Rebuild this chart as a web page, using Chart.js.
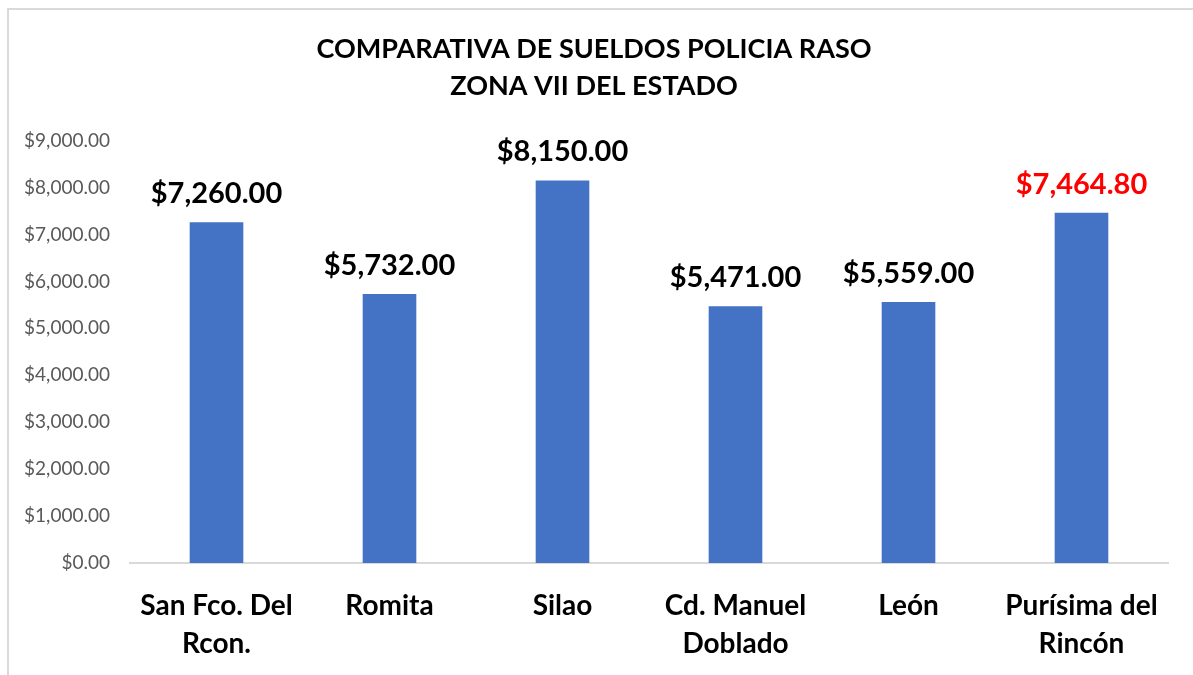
<!DOCTYPE html>
<html>
<head>
<meta charset="utf-8">
<script src="https://cdn.jsdelivr.net/npm/chart.js@4/dist/chart.umd.min.js"></script>
<style>
  html, body { margin: 0; padding: 0; background: #fff; overflow: hidden; }
  #marco { position: absolute; left: 7px; top: 8px; width: 1300px; height: 800px; border: 2px solid #d9d9d9; }
  #caja { position: absolute; left: 0; top: 0; width: 1193px; height: 675px; }
</style>
</head>
<body>
<div id="marco"></div>
<div id="caja"><canvas id="grafico-sueldos"></canvas></div>
<script>
// DATOS
const municipios = [['San Fco. Del', 'Rcon.'], 'Romita', 'Silao', ['Cd. Manuel', 'Doblado'], 'León', ['Purísima del', 'Rincón']]
const sueldos = [7260, 5732, 8150, 5471, 5559, 7464.8]
const coloresEtiqueta = ['#000000', '#000000', '#000000', '#000000', '#000000', '#ff0000']
const ticksY = [0, 1000, 2000, 3000, 4000, 5000, 6000, 7000, 8000, 9000]

const fuente = 'Lato, "Open Sans", sans-serif'

function formatoPesos(v) {
    return '$' + v.toLocaleString('en-US', { minimumFractionDigits: 2, maximumFractionDigits: 2 })
}

// etiquetas encima de las barras (no hay plugin datalabels)
const etiquetasBarras = {
    id: 'etiquetasBarras',
    afterDatasetsDraw(chart) {
        const ctx = chart.ctx
        const meta = chart.getDatasetMeta(0)
        ctx.save()
        ctx.font = 'bold 29px ' + fuente
        ctx.textAlign = 'center'
        ctx.textBaseline = 'bottom'
        meta.data.forEach(function(barra, i) {
            ctx.fillStyle = coloresEtiqueta[i]
            ctx.fillText(formatoPesos(sueldos[i]), barra.x, barra.y - 14)
        })
        ctx.restore()
    }
}

var sueldosCtx = document.getElementById('grafico-sueldos').getContext('2d')

var grafico = new Chart(sueldosCtx, {
    type: 'bar',
    data: {
        labels: municipios,
        datasets: [{
            label: 'Sueldo',
            data: sueldos,
            backgroundColor: '#4472c4',
            borderWidth: 0,
            categoryPercentage: 1,
            barPercentage: 0.31
        }]
    },
    options: {
        responsive: true,
        maintainAspectRatio: false,
        animation: false,
        layout: {
            padding: { left: 20, right: 25, top: 0, bottom: 16 }
        },
        scales: {
            y: {
                min: 0,
                max: 9000,
                afterBuildTicks: function(scale) {
                    scale.ticks = ticksY.map(function(v) { return { value: v } })
                },
                afterFit: function(scale) {
                    scale.width = 110
                },
                grid: { display: false, drawTicks: false },
                border: { display: false },
                ticks: {
                    color: '#595959',
                    padding: 20,
                    font: { family: fuente, size: 19 },
                    callback: function(v) { return formatoPesos(v) }
                }
            },
            x: {
                grid: { display: false, drawTicks: false },
                border: { display: true, color: '#d9d9d9', width: 2 },
                afterFit: function(scale) {
                    scale.height = 96
                },
                ticks: {
                    color: '#000000',
                    padding: 24,
                    maxRotation: 0,
                    autoSkip: false,
                    font: { family: fuente, size: 28, weight: 'bold', lineHeight: 1.36 }
                }
            }
        },
        plugins: {
            legend: { display: false },
            tooltip: { enabled: false },
            title: {
                display: true,
                text: ['COMPARATIVA DE SUELDOS POLICIA RASO', 'ZONA VII DEL ESTADO'],
                color: '#000000',
                font: { family: fuente, size: 27, weight: 'bold', lineHeight: 1.4 },
                padding: { top: 30, bottom: 35 }
            }
        }
    },
    plugins: [etiquetasBarras]
})
</script>
</body>
</html>
